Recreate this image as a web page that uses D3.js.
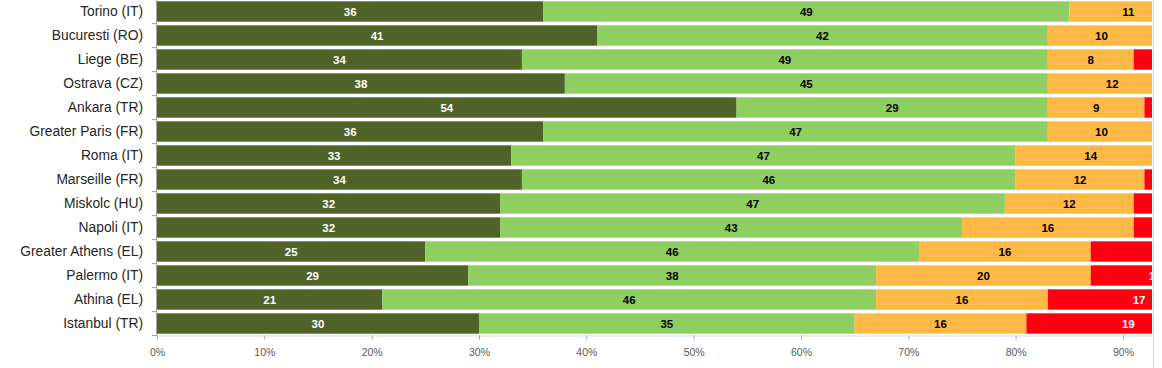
<!DOCTYPE html>
<html><head><meta charset="utf-8">
<script src="https://cdn.jsdelivr.net/npm/d3@7"></script>
<style>body{margin:0;background:#fff;}svg{display:block;}</style>
</head><body>
<svg id="chart" width="1162" height="368"></svg>
<script>
const categories = ["Torino (IT)","Bucuresti (RO)","Liege (BE)","Ostrava (CZ)","Ankara (TR)","Greater Paris (FR)","Roma (IT)","Marseille (FR)","Miskolc (HU)","Napoli (IT)","Greater Athens (EL)","Palermo (IT)","Athina (EL)","Istanbul (TR)"];
const seriesA = [36,41,34,38,54,36,33,34,32,32,25,29,21,30];
const seriesB = [49,42,49,45,29,47,47,46,47,43,46,38,46,35];
const seriesC = [11,10,8,12,9,10,14,12,12,16,16,20,16,16];
const seriesD = [3,5,7,4,6,5,4,6,7,7,13,12,17,19];
const tickValues = [0,10,20,30,40,50,60,70,80,90];
const tickLabels = ["0%","10%","20%","30%","40%","50%","60%","70%","80%","90%"];
const colors = ["#4f6228","#8fcf62","#ffb947","#ff0010"];
const labelColors = ["#ffffff","#000000","#000000","#ffffff"];

const svg = d3.select("#chart");
const x0 = 157, clipRight = 1152;
const x = d3.scaleLinear().domain([0,100]).range([x0, x0 + 1073.3]);
const y = d3.scaleBand().domain(categories).range([-0.5, 335.5]).paddingInner(0.15).paddingOuter(0.075);

const series = [seriesA, seriesB, seriesC, seriesD];
const rows = categories.map((c,i)=>({cat:c, vals:series.map(s=>s[i])}));
const segs = [];
rows.forEach(r=>{
  let acc = 0;
  r.vals.forEach((v,k)=>{ segs.push({cat:r.cat, k, v, start:acc, end:acc+v}); acc += v; });
});

svg.append("defs").append("clipPath").attr("id","clip")
  .append("rect").attr("x",x0).attr("y",-5).attr("width",clipRight-x0).attr("height",345);

const plot = svg.append("g").attr("clip-path","url(#clip)");
plot.selectAll("rect.seg").data(segs).join("rect").attr("class","seg")
  .attr("x",d=>x(d.start)).attr("width",d=>Math.min(x(d.end),clipRight)-Math.min(x(d.start),clipRight))
  .attr("y",d=>y(d.cat)).attr("height",y.bandwidth())
  .attr("fill",d=>colors[d.k]);
// only labels that fall (at least partly) inside the visible plot
const visibleLabels = segs.filter(d=>x((d.start+d.end)/2) - String(d.v).length*3.3 < clipRight);
plot.selectAll("text.val").data(visibleLabels).join("text").attr("class","val")
  .attr("x",d=>x((d.start+d.end)/2)).attr("y",d=>y(d.cat)+y.bandwidth()/2)
  .attr("dy","0.36em").attr("text-anchor","middle")
  .attr("font-family","Liberation Sans, Arial, sans-serif").attr("font-weight","bold")
  .attr("font-size","11.5px").attr("fill",d=>labelColors[d.k])
  .text(d=>d.v);

// right border line
svg.append("line").attr("x1",clipRight+1.5).attr("x2",clipRight+1.5).attr("y1",0).attr("y2",368)
  .attr("stroke","#d9d9d9").attr("stroke-width",1);

// y axis
const yAxis = svg.append("g");
yAxis.append("line").attr("x1",x0-0.5).attr("x2",x0-0.5).attr("y1",-1).attr("y2",336)
  .attr("stroke","#a6a6a6");
const bounds = d3.range(categories.length+1).map(i=>-0.5 + i*y.step());
yAxis.selectAll("line.tk").data(bounds).join("line").attr("class","tk")
  .attr("x1",x0-5).attr("x2",x0).attr("y1",d=>d).attr("y2",d=>d).attr("stroke","#a6a6a6");
yAxis.selectAll("text").data(categories).join("text")
  .attr("x",143).attr("y",d=>y(d)+y.bandwidth()/2).attr("dy","0.36em")
  .attr("text-anchor","end").attr("font-family","Liberation Sans, Arial, sans-serif")
  .attr("font-size","13.8px").attr("fill","#262626").text(d=>d);

// x axis
const xAxis = svg.append("g").attr("transform","translate(0,335.5)")
  .call(d3.axisBottom(x).tickValues(tickValues).tickFormat((d,i)=>tickLabels[i]).tickSize(4).tickPadding(9));
xAxis.select(".domain").attr("stroke","#d9d9d9").attr("d",`M${x0},0.5H${clipRight}`);
xAxis.selectAll(".tick line").attr("stroke","#a6a6a6");
xAxis.selectAll(".tick text").attr("font-family","Liberation Sans, Arial, sans-serif")
  .attr("font-size","10.5px").attr("fill","#595959");
</script>
</body></html>
